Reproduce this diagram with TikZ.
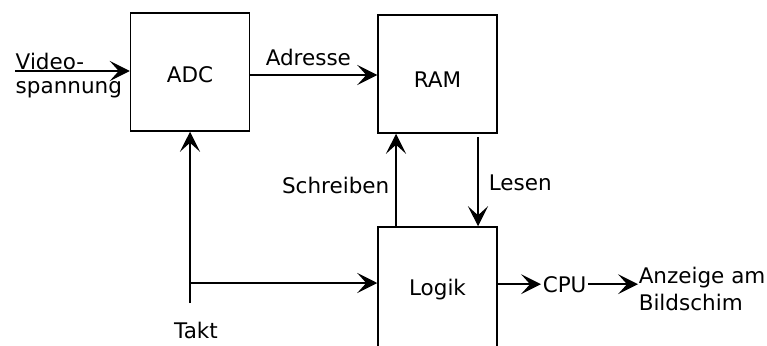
\documentclass[tikz,border=0pt]{standalone}
\usepackage{fontspec}
\setmainfont{DejaVu Sans}
\usetikzlibrary{arrows.meta}
\begin{document}
\begin{tikzpicture}[x=1pt,y=-1pt,
  line width=1.5pt,
  every node/.style={font=\fontsize{21.5}{27}\selectfont},
  txt/.style={inner sep=0pt},
  blk/.style={draw,line width=1.5pt,minimum width=119pt,minimum height=118pt,inner sep=0pt,text depth=0pt},
  arr/.style={-{Stealth[length=20pt,width=20pt,inset=9pt]}}]
\useasboundingbox (0,0) rectangle (767,345);
\clip (0,0) rectangle (767,345);
% blocks
\node[blk,text height=21.7pt] (adc) at (190,72) {ADC};
\node[blk,text height=27.7pt] (ram) at (437.5,74) {RAM};
\node[blk,minimum height=122pt,text height=15.7pt] (logik) at (437.5,288) {Logik};
% texts
\node[txt,anchor=base west] (video) at (15,70) {Video-};
\node[txt,anchor=base west] (spann) at (15,93) {spannung};
\node[txt,anchor=base west] (adr) at (265,65) {Adresse};
\node[txt,anchor=base east] (schr) at (390,193) {Schreiben};
\node[txt,anchor=base west] (lesen) at (488,190) {Lesen};
\node[txt,anchor=base] (takt) at (196,338) {Takt};
\node[txt,inner xsep=1pt,anchor=base west] (cpu) at (541,292) {CPU};
\node[txt,anchor=base west] (anz) at (638,283) {Anzeige am};
\node[txt,anchor=base west] (bild) at (638,310) {Bildschim};
% coordinates
\coordinate (vin) at (15,71);
\coordinate (tin) at (190,303);
\coordinate (tb) at (190,283);
% connectors
\draw[arr] (vin) -- (vin -| adc.west);
\draw[arr] ([yshift=-3pt]adc.east) -- ([yshift=-3pt]adc.east -| ram.west);
\draw[arr] ([xshift=-41.5pt]logik.north) -- ([xshift=-41.5pt]ram.south);
\draw[arr] ([xshift=40.5pt,yshift=-3pt]ram.south) -- ([xshift=40.5pt]logik.north);
\draw[arr] (tin) -- (adc.south);
\draw[arr] (tb) -- (tb -| logik.west);
\draw[arr] (cpu.west -| logik.east) -- (cpu.west);
\draw[arr] (cpu.east) -- (cpu.east -| anz.west);
\end{tikzpicture}
\end{document}
